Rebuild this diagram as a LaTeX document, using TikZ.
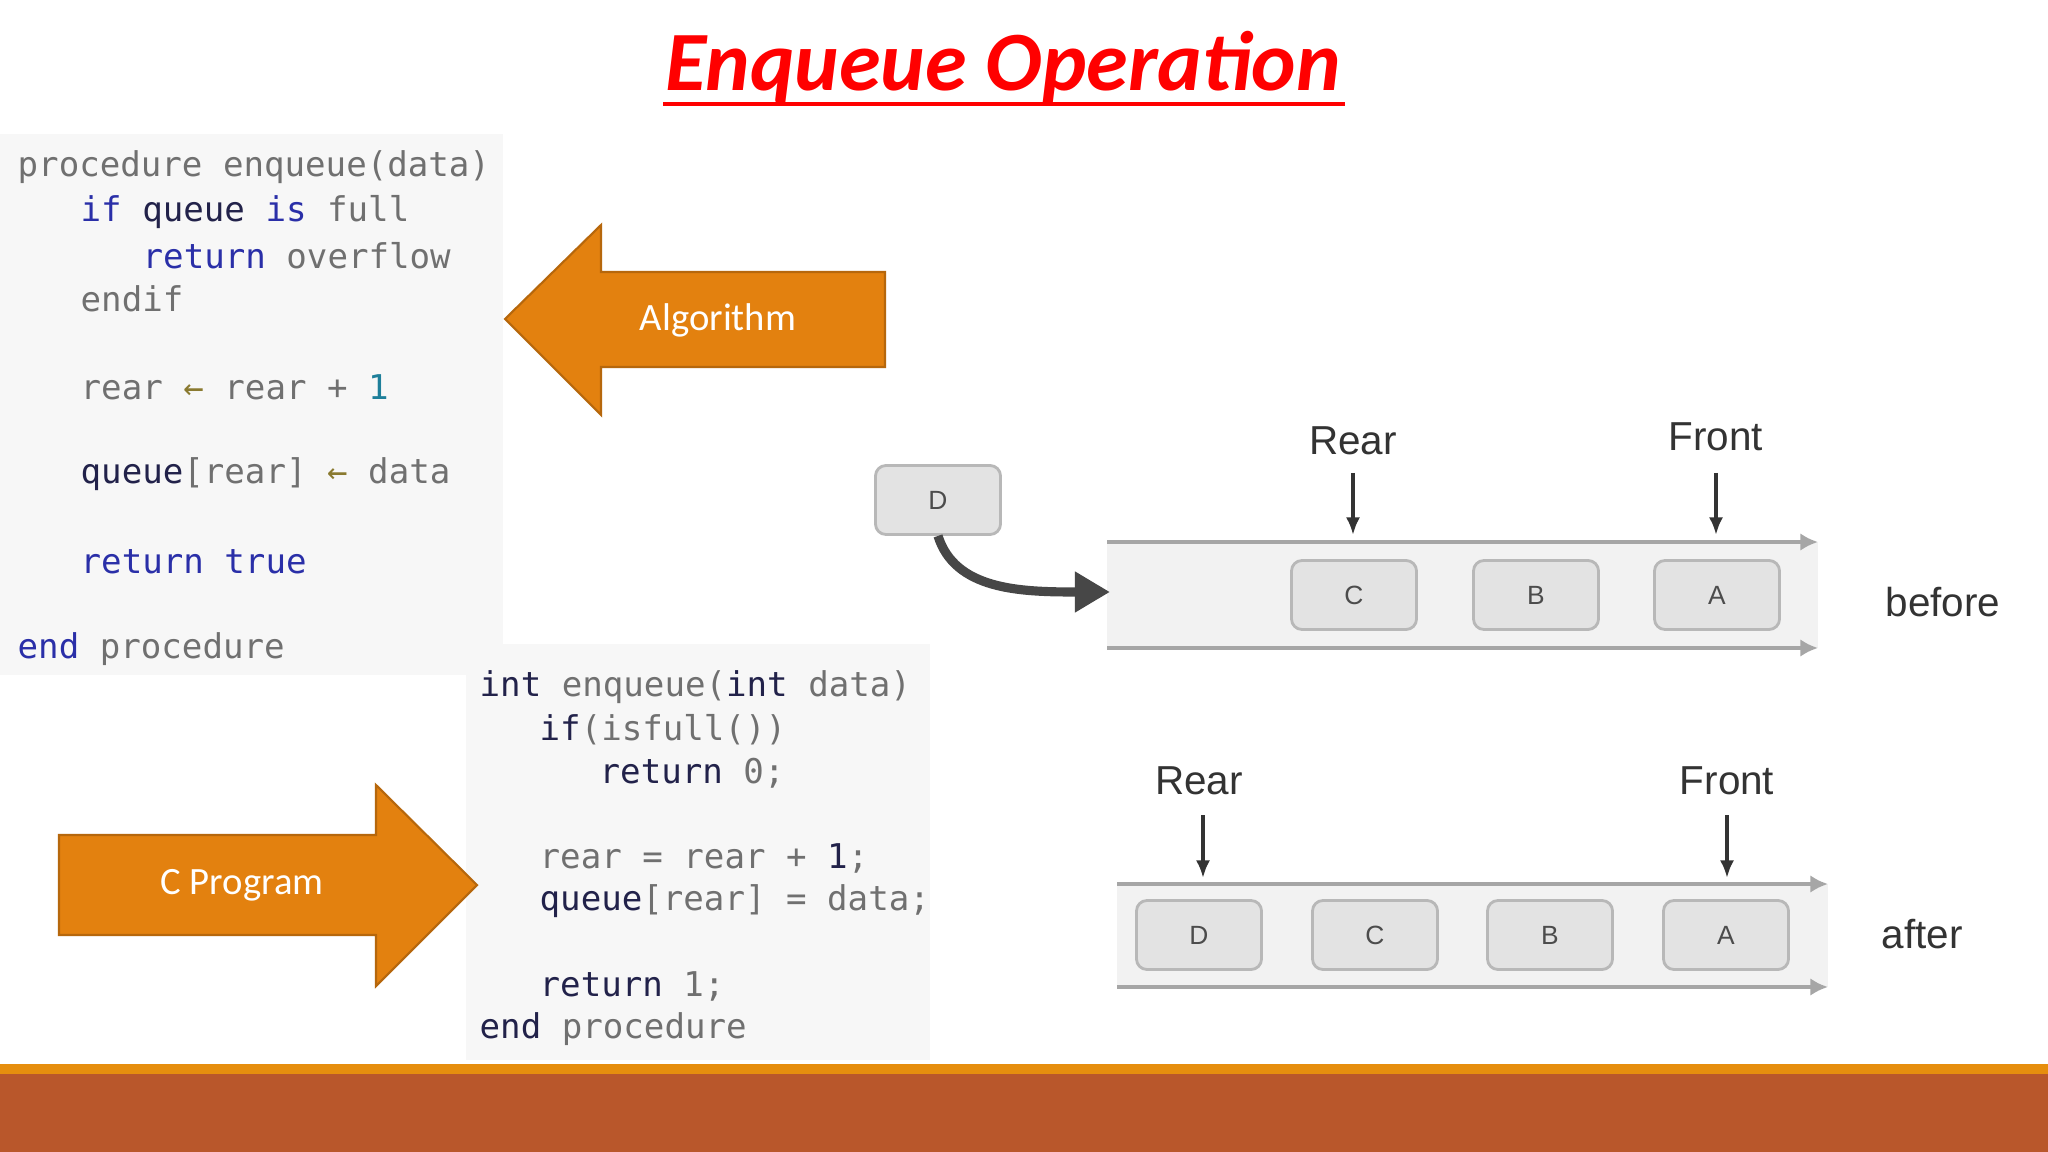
\documentclass[tikz,border=0pt]{standalone}
\usepackage{fontspec}
\setmainfont{Carlito}
\newfontfamily\mono{DejaVu Sans Mono}
\newfontfamily\helv{Liberation Sans}
\usetikzlibrary{arrows.meta}
\definecolor{kw}{HTML}{2A2FA8}
\definecolor{gr}{HTML}{707070}
\definecolor{dk}{HTML}{22224A}
\definecolor{ol}{HTML}{8A7A30}
\definecolor{tl}{HTML}{1E7F9A}
\definecolor{org}{HTML}{E3810F}
\definecolor{rust}{HTML}{B9572B}
\tikzset{
 code/.style={anchor=west,font=\mono\fontsize{9.7}{11}\selectfont,inner sep=0pt},
 lbl/.style={font=\helv\fontsize{11.5}{13}\selectfont,text=black!80},
 box/.style={draw=black!28,fill=black!11,rounded corners=3pt,minimum width=1.25cm,minimum height=0.69cm,font=\helv\fontsize{7.5}{9}\selectfont,text=black!70,line width=0.8pt},
 rail/.style={draw=black!35,line width=1.2pt,-{Latex[length=5pt,width=5pt]}},
 ptr/.style={draw=black!80,line width=1pt,-{Latex[length=5pt,width=4pt]}},
 bigarrow/.style={fill=org,draw=org!80!black,line width=0.6pt},
 arrowtext/.style={text=white,font=\fontsize{11}{13}\selectfont}
}
\begin{document}
\begin{tikzpicture}[x=0.01cm,y=-0.01cm]
\useasboundingbox (0,0) rectangle (2048,1152);
\fill[white] (0,0) rectangle (2048,1152);
% title
\node (title) at (1003,68) {\fontsize{24}{28}\selectfont\bfseries\itshape\color{red}Enqueue Operation};
\draw[red,line width=1.3pt] (663,104) -- (1345,104);
% code panels
\fill[black!3] (0,134) rectangle (503,675);
\fill[black!3] (466,644) rectangle (930,1060);
\node[code] (p1) at (17,167) {\color{gr}procedure enqueue(data)};
\node[code] (p2) at (80,212) {\color{kw}if \color{dk}queue \color{kw}is \color{gr}full};
\node[code] (p3) at (142,256) {\color{kw}return \color{gr}overflow};
\node[code] (p4) at (80,299) {\color{gr}endif};
\node[code] (p5) at (80,387) {\color{gr}rear \color{ol}← \color{gr}rear + \color{tl}1};
\node[code] (p6) at (80,474) {\color{dk}queue\color{gr}[rear] \color{ol}← \color{gr}data};
\node[code] (p7) at (80,562) {\color{kw}return true};
\node[code] (p8) at (17,649) {\color{kw}end \color{gr}procedure};
\node[code] (c1) at (479,687) {\color{dk}int \color{gr}enqueue(\color{dk}int \color{gr}data)};
\node[code] (c2) at (539,730) {\color{dk}if\color{gr}(isfull())};
\node[code] (c3) at (599,773) {\color{dk}return \color{gr}0;};
\node[code] (c4) at (539,858) {\color{gr}rear = rear + \color{dk}1\color{gr};};
\node[code] (c5) at (539,901) {\color{dk}queue\color{gr}[rear] = data;};
\node[code] (c6) at (539,986) {\color{dk}return \color{gr}1;};
\node[code] (c7) at (479,1029) {\color{dk}end \color{gr}procedure};
% big arrows
\draw[bigarrow] (505,319) -- (601,225) -- (601,272) -- (885,272) -- (885,367) -- (601,367) -- (601,415) -- cycle;
\node[arrowtext] (alg) at (718,320) {Algorithm};
\draw[bigarrow] (477,885) -- (376,785) -- (376,835) -- (59,835) -- (59,935) -- (376,935) -- (376,986) -- cycle;
\node[arrowtext] (cprog) at (242,885) {C Program};
% before queue
\fill[black!5] (1107,542) rectangle (1818,648);
\coordinate (bt1) at (1107,542); \coordinate (bt2) at (1818,542);
\coordinate (bb1) at (1107,648); \coordinate (bb2) at (1818,648);
\draw[rail] (bt1) -- (bt2);
\draw[rail] (bb1) -- (bb2);
\node[box] (d0) at (938,500) {D};
\node[box] (bc) at (1354,595) {C};
\node[box] (bB) at (1536,595) {B};
\node[box] (bA) at (1717,595) {A};
\node[lbl] (rear1) at (1353,441) {Rear};
\node[lbl] (front1) at (1716,437) {Front};
\coordinate (r1e) at (1353,535); \coordinate (f1e) at (1716,535);
\draw[ptr] (1353,473) -- (r1e);
\draw[ptr] (1716,473) -- (f1e);
\node[lbl] (before) at (1943,602) {before};
\coordinate (ins) at (1110,592);
\draw[draw=black!72,line width=2.6pt,-{Triangle[length=10pt,width=11pt]}] (d0.south) .. controls (955,590) and (1020,592) .. (ins);
% after queue
\fill[black!5] (1117,884) rectangle (1828,987);
\coordinate (at1) at (1117,884); \coordinate (at2) at (1828,884);
\coordinate (ab1) at (1117,987); \coordinate (ab2) at (1828,987);
\draw[rail] (at1) -- (at2);
\draw[rail] (ab1) -- (ab2);
\node[box] (aD) at (1199,935) {D};
\node[box] (aC) at (1375,935) {C};
\node[box] (aB) at (1550,935) {B};
\node[box] (aA) at (1726,935) {A};
\node[lbl] (rear2) at (1199,781) {Rear};
\node[lbl] (front2) at (1727,781) {Front};
\coordinate (r2e) at (1203,878); \coordinate (f2e) at (1727,878);
\draw[ptr] (1203,815) -- (r2e);
\draw[ptr] (1727,815) -- (f2e);
\node[lbl] (after) at (1922,934) {after};
% bottom bar
\fill[org!90!yellow] (0,1064) rectangle (2048,1074);
\fill[rust] (0,1074) rectangle (2048,1152);
\end{tikzpicture}
\end{document}
